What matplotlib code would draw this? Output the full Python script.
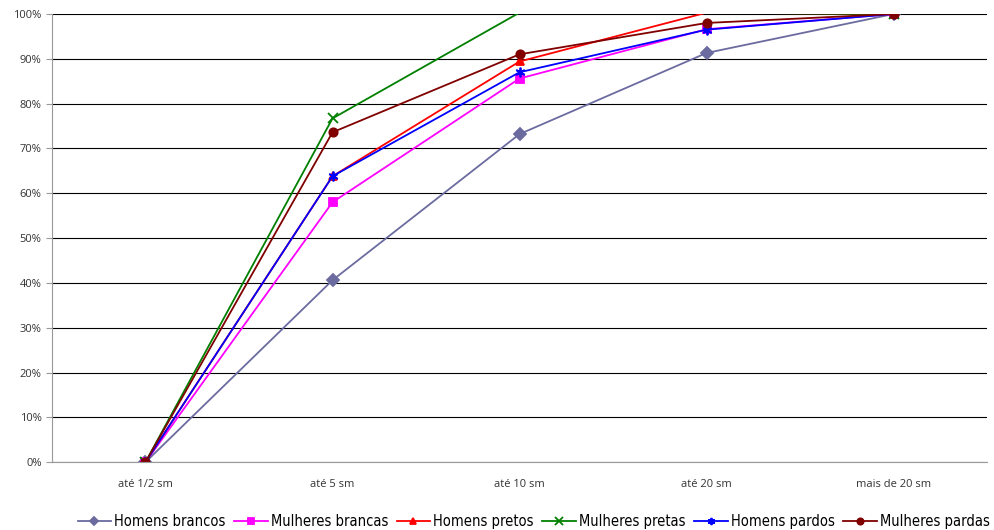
import numpy as np
import matplotlib.pyplot as plt
from matplotlib.ticker import PercentFormatter
from matplotlib.font_manager import FontProperties

categorias = ['até 1/2 sm', 'até 5 sm', 'até 10 sm', 'até 20 sm', 'mais de 20 sm']

homens_brancos = [0, 40.6, 73.2, 91.3, 100]
mulheres_brancas = [0, 58.0, 85.6, 96.6, 100]
homens_pretos = [0, 63.8, 89.4, 100.3, 100]
mulheres_pretas = [0, 76.7, 100.3, 100.3, 100]
homens_pardos = [0, 63.8, 87.0, 96.5, 100]
mulheres_pardas = [0, 73.6, 91.0, 98.0, 100]

series = [
    ('Homens brancos', homens_brancos, '#6b6ba0', 'D', 6),
    ('Mulheres brancas', mulheres_brancas, '#ff00ff', 's', 6),
    ('Homens pretos', homens_pretos, '#ff0000', '^', 6),
    ('Mulheres pretas', mulheres_pretas, '#008000', 'x', 7),
    ('Homens pardos', homens_pardos, '#0000ff', (6, 2, 0), 7),
    ('Mulheres pardas', mulheres_pardas, '#800000', 'o', 6),
]

plt.rcParams['font.family'] = ['Open Sans', 'DejaVu Sans']

fig = plt.figure(figsize=(9.94, 5.3), dpi=100)
ax = fig.add_axes([0.0523, 0.128, 0.9407, 0.8456])

x = np.arange(len(categorias))
for nome, vals, cor, mk, ms in series:
    # no marker for points beyond the axis top
    visiveis = [i for i, v in enumerate(vals) if v <= 100]
    ax.plot(x, vals, color=cor, lw=1.3, marker=mk, ms=ms, mew=1.3,
            markevery=visiveis, label=nome)

ax.set_xlim(-0.5, len(categorias) - 0.5)
ax.set_ylim(0, 100)
ax.set_yticks(np.arange(0, 101, 10))
ax.yaxis.set_major_formatter(PercentFormatter(decimals=0))
ax.set_xticks(x)
ax.set_xticklabels(categorias)
ax.tick_params(axis='both', labelsize=8, colors='#333333')
ax.tick_params(axis='y', length=4, color='#999999')
ax.tick_params(axis='x', length=0, pad=12)
ax.grid(axis='y', color='black', lw=0.8)
ax.set_axisbelow(True)
for s in ['top', 'right']:
    ax.spines[s].set_visible(False)
for s in ['left', 'bottom']:
    ax.spines[s].set_color('#999999')

fp = FontProperties(family='DejaVu Sans', stretch='condensed', size=10.5)
leg = ax.legend(loc='upper center', bbox_to_anchor=(0.515, -0.086), ncol=6, frameon=False,
                prop=fp, handlelength=2.3, handletextpad=0.2, columnspacing=0.6, markerscale=0.75)

fig.savefig('out.png', dpi=100)
